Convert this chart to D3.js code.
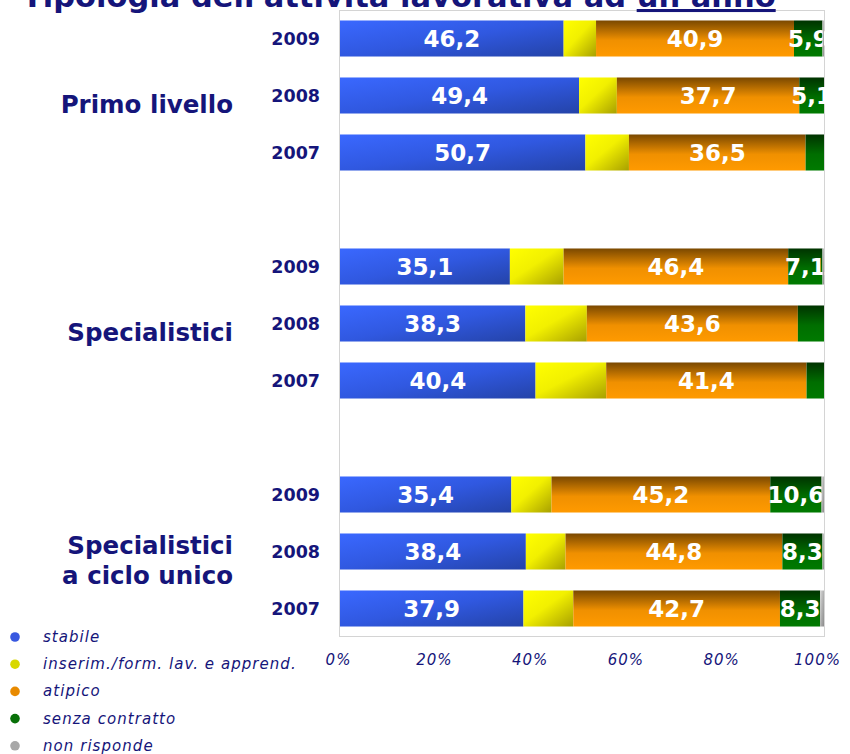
<!DOCTYPE html>
<html><head><meta charset="utf-8">
<script src="https://cdn.jsdelivr.net/npm/d3@7"></script>
<style>
html,body{margin:0;padding:0;background:#fff;}
svg{display:block;}
</style></head>
<body>
<svg id="chart" width="850" height="754"></svg>
<script>
// ---- data ----
const groups = ["Primo livello", "Specialistici", "Specialistici|a ciclo unico"];
const years = ["2009", "2008", "2007"];
const stabile  = [46.2, 49.4, 50.7, 35.1, 38.3, 40.4, 35.4, 38.4, 37.9];
const inserim  = [6.7, 7.8, 9.0, 11.1, 12.7, 14.6, 8.3, 8.2, 10.3];
const atipico  = [40.9, 37.7, 36.5, 46.4, 43.6, 41.4, 45.2, 44.8, 42.7];
const senza    = [5.9, 5.1, 3.8, 7.1, 5.4, 3.6, 10.6, 8.3, 8.3];
const nonRisp  = [0.3, 0, 0, 0.3, 0, 0, 0.5, 0.3, 0.8];
const senzaLabelShown = [true, true, false, true, false, false, true, true, true];
const seriesNames = ["stabile", "inserim./form. lav. e apprend.", "atipico", "senza contratto", "non risponde"];
const tickValues = [0, 20, 40, 60, 80, 100];
const titleMain = "Tipologia dell'attività lavorativa ad ";
const titleUnder = "un anno";

// ---- build rows (with spacer slots between groups) ----
const rows = [];
const slots = [];
groups.forEach((g, gi) => {
  years.forEach((y, yi) => {
    const i = gi * 3 + yi;
    const id = g + "-" + y;
    rows.push({id, group: g, year: y, vals: [stabile[i], inserim[i], atipico[i], senza[i], nonRisp[i]], showLbl: [true, false, true, senzaLabelShown[i], false]});
    slots.push(id);
  });
  if (gi < groups.length - 1) slots.push("gap" + gi);
});

const svg = d3.select("#chart");
const navy = "#15157a";

const x = d3.scaleLinear().domain([0, 100]).range([340, 824]);
const xTicks = d3.scaleLinear().domain([0, 100]).range([338, 817]);
const y = d3.scaleBand().domain(slots).range([10, 637]).paddingInner(0.368).paddingOuter(0.184);

// gradients
const defs = svg.append("defs");
function lin(id, x1, y1, x2, y2, stops) {
  const g = defs.append("linearGradient").attr("id", id)
    .attr("x1", x1).attr("y1", y1).attr("x2", x2).attr("y2", y2);
  stops.forEach(s => g.append("stop").attr("offset", s[0]).attr("stop-color", s[1]));
}
lin("g0", "0", "0", "1", "1", [[0, "#3a68ff"], [0.5, "#3058e0"], [1, "#2443a8"]]);
lin("g1", "0", "0", "1", "1", [[0, "#ffff00"], [0.45, "#f2f000"], [1, "#a8a000"]]);
lin("g2", "0", "0", "0", "1", [[0, "#7a4800"], [0.55, "#f09000"], [1, "#ff9a00"]]);
lin("g3", "0", "0", "0", "1", [[0, "#003300"], [0.55, "#006e00"], [1, "#007a00"]]);
lin("g4", "0", "0", "1", "1", [[0, "#d8d8d8"], [1, "#8a8a8a"]]);
const legendColors = ["#3858e0", "#d8d800", "#e88a00", "#087008", "#a8a8a8"];

// plot box
svg.append("rect").attr("x", x(0) - 0.5).attr("y", 10.5).attr("width", x(100) - x(0) + 1).attr("height", 626)
  .attr("fill", "none").attr("stroke", "#d4d4d4").attr("stroke-width", 1);

// title (partly cut off at top, as in the original)
const title = svg.append("text").attr("x", 22).attr("y", 7)
  .attr("font-family", "DejaVu Sans").attr("font-weight", "bold").attr("font-size", 30.5).attr("fill", navy);
title.append("tspan").text(titleMain);
title.append("tspan").attr("text-decoration", "underline").text(titleUnder);

// bars
const rowG = svg.selectAll("g.row").data(rows).join("g").attr("class", "row");
rowG.each(function(r) {
  const g = d3.select(this);
  let cum = 0;
  r.vals.forEach((v, k) => {
    const x0 = x(cum), x1 = x(cum + v);
    cum += v;
    if (v <= 0) return;
    g.append("rect").attr("x", x0).attr("y", y(r.id)).attr("width", x1 - x0).attr("height", y.bandwidth())
      .attr("fill", "url(#g" + k + ")");
    if (r.showLbl[k]) {
      g.append("text").attr("x", (x0 + x1) / 2).attr("y", y(r.id) + y.bandwidth() / 2)
        .attr("dy", "0.36em").attr("text-anchor", "middle")
        .attr("font-family", "DejaVu Sans").attr("font-weight", "bold").attr("font-size", 23)
        .attr("fill", "#fff").text(d3.format(".1f")(v).replace(".", ","));
    }
  });
  // year label
  g.append("text").attr("x", 320).attr("y", y(r.id) + y.bandwidth() / 2).attr("dy", "0.36em")
    .attr("text-anchor", "end").attr("font-family", "DejaVu Sans").attr("font-weight", "bold")
    .attr("font-size", 17.5).attr("fill", navy).text(r.year);
});

// group labels
groups.forEach((g, gi) => {
  const mid = y(g + "-2008") + y.bandwidth() / 2 + 9;
  const lines = g.split("|");
  const t = svg.append("text").attr("x", 233).attr("text-anchor", "end")
    .attr("font-family", "DejaVu Sans").attr("font-weight", "bold").attr("font-size", 24.5).attr("fill", navy);
  const lh = 30;
  lines.forEach((ln, li) => {
    t.append("tspan").attr("x", 233)
      .attr("y", mid + (li - (lines.length - 1) / 2) * lh).attr("dy", "0.36em").text(ln);
  });
});

// x axis tick labels
const axis = d3.axisBottom(xTicks).tickValues(tickValues).tickSize(0).tickFormat(d => d + "%");
const ax = svg.append("g").attr("transform", "translate(0,651)").call(axis);
ax.select(".domain").remove();
ax.selectAll("text").attr("font-family", "DejaVu Sans").attr("font-style", "italic")
  .attr("font-size", 15).attr("letter-spacing", 1).attr("fill", navy);

// legend
const leg = svg.selectAll("g.leg").data(seriesNames).join("g").attr("class", "leg")
  .attr("transform", (d, i) => `translate(0,${637 + i * 27.2})`);
leg.append("circle").attr("cx", 15).attr("cy", 0).attr("r", 4.8).attr("fill", (d, i) => legendColors[i]);
leg.append("text").attr("x", 43).attr("y", 0).attr("dy", "0.33em")
  .attr("font-family", "DejaVu Sans").attr("font-style", "italic")
  .attr("font-size", 15).attr("letter-spacing", 1.05).attr("fill", navy).text(d => d);
</script>
</body></html>
